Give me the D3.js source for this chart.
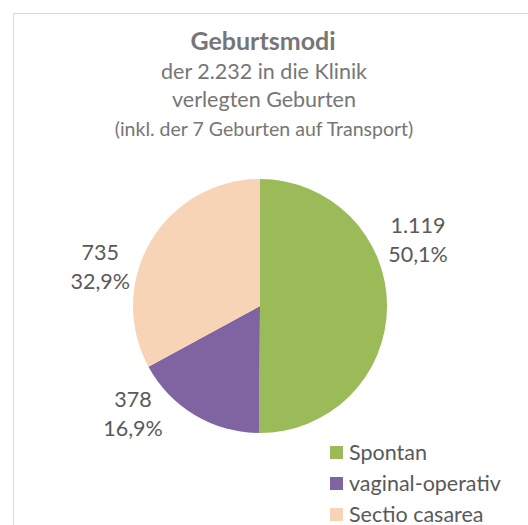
<!DOCTYPE html>
<html>
<head>
<meta charset="utf-8">
<script src="https://cdn.jsdelivr.net/npm/d3@7"></script>
<style>
  body { margin: 0; background: #fff; }
  svg { display: block; font-family: Lato, 'Open Sans', sans-serif; }
</style>
</head>
<body>
<svg id="chart" width="528" height="525"></svg>
<script>
// Data
const categories = ['Spontan', 'vaginal-operativ', 'Sectio casarea'];
const counts = [1119, 378, 735];
const countLabels = ['1.119', '378', '735'];
const percentLabels = ['50,1%', '16,9%', '32,9%'];
const titleLines = ['der 2.232 in die Klinik', 'verlegten Geburten'];
const noteLine = '(inkl. der 7 Geburten auf Transport)';

const colors = ['#9bbb59', '#8064a2', '#f8d4b6'];
// label placement: angle (deg, clockwise from top) and distance from centre
const labelPlace = [
    { angle: 67.9, dist: 170.5 },
    { angle: 229.1, dist: 168 },
    { angle: 283.0, dist: 164 },
];

const svg = d3.select('#chart');
const cx = 260, cy = 306, r = 127;

// chart frame
svg.append('rect')
    .attr('x', 13.5).attr('y', 13.5)
    .attr('width', 540).attr('height', 540)
    .attr('fill', 'none')
    .attr('stroke', '#d9d9d9')
    .attr('stroke-width', 1);

// title block
svg.append('text')
    .attr('x', 263).attr('y', 50)
    .attr('text-anchor', 'middle')
    .attr('font-size', 25).attr('font-weight', 'bold')
    .attr('fill', '#767676')
    .text('Geburtsmodi');
svg.selectAll('text.sub')
    .data(titleLines)
    .join('text')
    .attr('class', 'sub')
    .attr('x', 264).attr('y', (d, i) => 79 + i * 28)
    .attr('text-anchor', 'middle')
    .attr('font-size', 21.5)
    .attr('fill', '#767676')
    .text((d) => d);
svg.append('text')
    .attr('x', 264).attr('y', 136)
    .attr('text-anchor', 'middle')
    .attr('font-size', 19.5)
    .attr('fill', '#767676')
    .text(noteLine);

// pie
const pie = d3.pie().sort(null).value((d) => d);
const arcs = pie(counts);
const arc = d3.arc().innerRadius(0).outerRadius(r);

const g = svg.append('g').attr('transform', `translate(${cx},${cy})`);
g.selectAll('path')
    .data(arcs)
    .join('path')
    .attr('d', arc)
    .attr('fill', (d, i) => colors[i]);

// data labels
const lab = g.selectAll('g.lab')
    .data(arcs)
    .join('g')
    .attr('class', 'lab')
    .attr('transform', (d, i) => {
        const a = labelPlace[i].angle * Math.PI / 180;
        const dd = labelPlace[i].dist;
        return `translate(${Math.sin(a) * dd},${-Math.cos(a) * dd})`;
    });
lab.append('text')
    .attr('text-anchor', 'middle')
    .attr('y', -9)
    .attr('font-size', 21.5)
    .attr('fill', '#595959')
    .text((d, i) => countLabels[i]);
lab.append('text')
    .attr('text-anchor', 'middle')
    .attr('y', 20)
    .attr('font-size', 21.5)
    .attr('fill', '#595959')
    .text((d, i) => percentLabels[i]);

// legend
const leg = svg.selectAll('g.leg')
    .data(categories)
    .join('g')
    .attr('class', 'leg')
    .attr('transform', (d, i) => `translate(330,${452.5 + i * 31})`);
leg.append('rect')
    .attr('x', 0).attr('y', -6.5)
    .attr('width', 13).attr('height', 13)
    .attr('fill', (d, i) => colors[i]);
leg.append('text')
    .attr('x', 19).attr('y', 7)
    .attr('font-size', 21.5)
    .attr('fill', '#595959')
    .text((d) => d);
</script>
</body>
</html>
